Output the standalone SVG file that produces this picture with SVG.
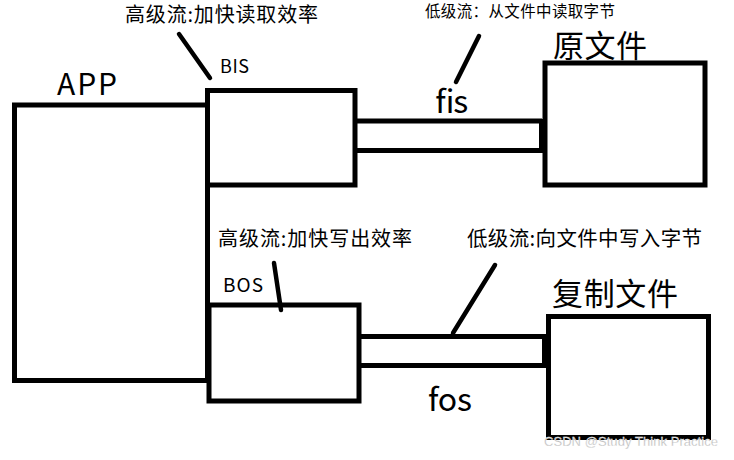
<svg xmlns="http://www.w3.org/2000/svg" width="734" height="460" viewBox="0 0 734 460">
<style>
.box{fill:none;stroke:#000;stroke-width:5}
.ln{stroke:#000;stroke-width:5;fill:none}
.lead{stroke:#000;stroke-width:4.5;stroke-linecap:round;fill:none}
.t{font-family:"Microsoft YaHei","Noto Sans CJK SC","Noto Sans",sans-serif;fill:#000}
.wm{font-family:"Liberation Sans",Arial,sans-serif;font-size:13px;fill:#b4b4b4;stroke:#fff;stroke-width:0.3}
</style>
<rect width="734" height="460" fill="#fff"/>
<g id="connectors">
<line class="ln" x1="355" y1="121" x2="542" y2="121"/>
<line class="ln" x1="355" y1="150.5" x2="542" y2="150.5"/>
<rect x="539" y="119" width="6" height="34" fill="#000"/>
<line class="ln" x1="359" y1="336.5" x2="546" y2="336.5"/>
<line class="ln" x1="359" y1="365.5" x2="546" y2="365.5"/>
<rect x="542" y="334" width="6" height="34" fill="#000"/>
<line class="lead" x1="179" y1="34" x2="210" y2="78"/>
<line class="lead" x1="479" y1="36" x2="456" y2="82"/>
<line class="lead" x1="274" y1="263" x2="281" y2="310"/>
<line class="lead" x1="495" y1="265" x2="453" y2="333"/>
</g>
<g id="app">
<rect class="box" x="14.5" y="105" width="193" height="275.5"/>
<text class="t" x="57" y="95" font-size="30" textLength="60">APP</text>
</g>
<g id="bis">
<rect class="box" x="207.5" y="90.5" width="147.5" height="94.5"/>
<text class="t" x="220" y="73" font-size="18" textLength="29">BIS</text>
<text class="t" x="125" y="22" font-size="20" textLength="193">高级流:加快读取效率</text>
</g>
<g id="fis">
<text class="t" x="434" y="113" font-size="32" textLength="33">fis</text>
<text class="t" x="425" y="16.5" font-size="15.5" textLength="190">低级流：从文件中读取字节</text>
</g>
<g id="original">
<rect class="box" x="545" y="63" width="160" height="122"/>
<text class="t" x="553" y="57" font-size="31" textLength="94">原文件</text>
</g>
<g id="bos">
<rect class="box" x="209" y="305" width="150" height="96"/>
<text class="t" x="223" y="292" font-size="19" textLength="40">BOS</text>
<text class="t" x="218" y="246" font-size="20" textLength="194">高级流:加快写出效率</text>
</g>
<g id="fos">
<text class="t" x="428" y="411" font-size="32" textLength="44">fos</text>
<text class="t" x="467" y="246" font-size="20.5" textLength="235">低级流:向文件中写入字节</text>
</g>
<g id="copy">
<rect class="box" x="548.5" y="316.5" width="160" height="121"/>
<text class="t" x="552" y="305" font-size="31" textLength="126">复制文件</text>
</g>
<text class="wm" x="544" y="446" textLength="174">CSDN @Study Think Practice</text>
</svg>
